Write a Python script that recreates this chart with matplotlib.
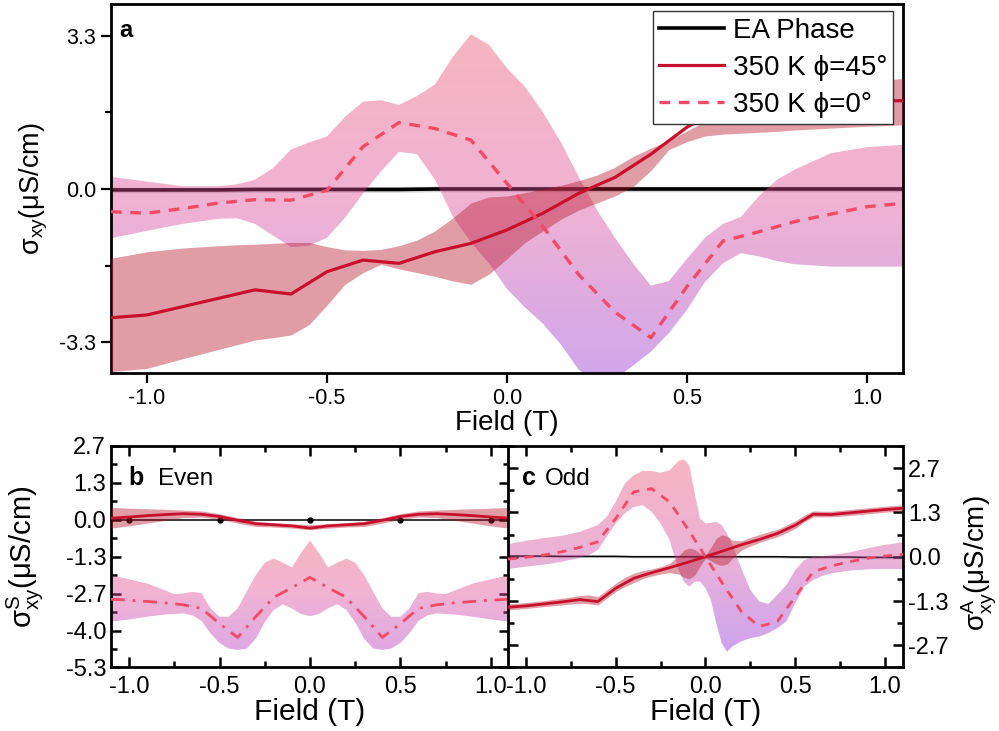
import numpy as np
import matplotlib
matplotlib.use('Agg')
import matplotlib.pyplot as plt
from matplotlib.colors import LinearSegmentedColormap
from matplotlib.ticker import FixedLocator, FormatStrFormatter, MultipleLocator

plt.rcParams['font.family'] = ['Liberation Sans', 'DejaVu Sans']
plt.rcParams['mathtext.fontset'] = 'custom'
plt.rcParams['mathtext.rm'] = 'Liberation Sans'
plt.rcParams['mathtext.it'] = 'Liberation Sans'
plt.rcParams['mathtext.default'] = 'regular'
plt.rcParams['axes.unicode_minus'] = False

# ---- panel a : full Hall conductivity ----
field = [-1.1, -1.0, -0.9, -0.8, -0.7, -0.6, -0.5, -0.4, -0.3, -0.2, -0.1, 0.0,
         0.1, 0.2, 0.3, 0.4, 0.5, 0.6, 0.7, 0.8, 0.9, 1.0, 1.1]
ea_a = [-0.02, -0.02, -0.02, -0.02, -0.01, -0.01, -0.01, -0.01, -0.01, 0.0, 0.0, 0.0,
        0.0, 0.0, 0.0, 0.0, 0.0, 0.0, 0.0, 0.0, 0.0, 0.0, 0.0]
phi45_a = [-2.77, -2.71, -2.53, -2.35, -2.17, -2.26, -1.78, -1.53, -1.60, -1.35, -1.17, -0.88,
           -0.52, -0.09, 0.25, 0.75, 1.33, 1.75, 1.82, 1.85, 1.87, 1.89, 1.90]
phi0_a = [-0.49, -0.52, -0.42, -0.30, -0.23, -0.24, -0.03, 0.91, 1.43, 1.30, 1.05, 0.12,
          -0.81, -1.85, -2.65, -3.20, -2.10, -1.12, -0.92, -0.70, -0.54, -0.38, -0.31]

band_x_a = [-1.1, -1.0, -0.9, -0.8, -0.75, -0.7, -0.65, -0.6, -0.55, -0.5, -0.45, -0.4, -0.35,
            -0.3, -0.25, -0.2, -0.15, -0.1, -0.05, 0.0, 0.05, 0.1, 0.15, 0.2, 0.25, 0.3,
            0.35, 0.4, 0.45, 0.5, 0.55, 0.6, 0.65, 0.7, 0.75, 0.8, 0.9, 1.0, 1.1]
phi45_hi_a = [-1.49, -1.35, -1.27, -1.22, -1.20, -1.19, -1.17, -1.15, -1.15, -1.24, -1.31, -1.32, -1.30,
              -1.22, -1.10, -0.90, -0.62, -0.30, -0.17, -0.15, -0.08, 0.0, 0.08, 0.18, 0.30, 0.47,
              0.70, 0.88, 1.05, 1.25, 1.45, 1.62, 1.75, 1.85, 1.95, 2.05, 2.20, 2.30, 2.38]
phi45_lo_a = [-3.93, -3.86, -3.65, -3.45, -3.35, -3.25, -3.20, -3.14, -2.92, -2.50, -2.05, -1.80, -1.62,
              -1.72, -1.80, -1.88, -1.98, -2.05, -1.83, -1.50, -1.15, -0.90, -0.65, -0.45, -0.30, -0.15,
              0.05, 0.40, 0.85, 1.02, 1.14, 1.18, 1.20, 1.22, 1.24, 1.27, 1.31, 1.35, 1.38]
phi0_hi_a = [0.26, 0.16, 0.06, 0.06, 0.10, 0.20, 0.45, 0.85, 1.00, 1.13, 1.55, 1.88, 1.91,
             1.81, 2.00, 2.25, 2.85, 3.33, 3.10, 2.60, 2.20, 1.65, 1.00, 0.25, -0.45, -1.05,
             -1.60, -2.08, -1.98, -1.50, -1.05, -0.75, -0.60, -0.15, 0.20, 0.42, 0.77, 0.90, 0.95]
phi0_lo_a = [-1.06, -0.90, -0.75, -0.64, -0.63, -0.75, -1.00, -1.25, -1.22, -1.05, -0.62, -0.10, 0.38,
             0.80, 0.75, 0.20, -0.60, -1.15, -1.60, -2.15, -2.55, -2.90, -3.35, -3.90, -4.10, -4.10,
             -3.80, -3.50, -3.10, -2.60, -2.00, -1.60, -1.38, -1.45, -1.55, -1.62, -1.67, -1.67, -1.67]

# ---- panel b : even (symmetric) part ----
ea_b = [0.0] * len(field)
even45 = [0.06, 0.10, 0.15, 0.19, 0.22, 0.20, 0.12, -0.02, -0.14, -0.18, -0.22, -0.30,
          -0.22, -0.18, -0.14, -0.02, 0.12, 0.20, 0.22, 0.19, 0.15, 0.10, 0.06]
even45_hi = [0.45, 0.42, 0.40, 0.38, 0.35, 0.32, 0.22, 0.08, -0.05, -0.10, -0.14, -0.18,
             -0.14, -0.10, -0.05, 0.08, 0.22, 0.32, 0.35, 0.38, 0.40, 0.42, 0.45]
even45_lo = [-0.30, -0.22, -0.12, -0.02, 0.08, 0.10, 0.02, -0.12, -0.24, -0.26, -0.30, -0.36,
             -0.30, -0.26, -0.24, -0.12, 0.02, 0.10, 0.08, -0.02, -0.12, -0.22, -0.30]
even0 = [-2.87, -2.90, -2.95, -3.00, -3.07, -3.20, -3.75, -4.25, -3.50, -2.80, -2.45, -2.08,
         -2.45, -2.80, -3.50, -4.25, -3.75, -3.20, -3.07, -3.00, -2.95, -2.90, -2.87]

band_x_b = [-1.1, -1.0, -0.9, -0.8, -0.75, -0.7, -0.65, -0.6, -0.55, -0.5, -0.45, -0.4, -0.35,
            -0.3, -0.25, -0.2, -0.15, -0.1, -0.05, 0.0, 0.05, 0.1, 0.15, 0.2, 0.25, 0.3,
            0.35, 0.4, 0.45, 0.5, 0.55, 0.6, 0.65, 0.7, 0.75, 0.8, 0.9, 1.0, 1.1]
even0_hi = [-2.00, -2.15, -2.30, -2.55, -2.68, -2.66, -2.60, -2.65, -3.20, -3.50, -3.50, -3.20, -2.60,
            -2.00, -1.55, -1.40, -1.55, -1.72, -1.20, -0.75, -1.20, -1.72, -1.55, -1.40, -1.55, -2.00,
            -2.60, -3.20, -3.50, -3.50, -3.20, -2.65, -2.60, -2.66, -2.68, -2.55, -2.30, -2.15, -2.00]
even0_lo = [-3.68, -3.60, -3.50, -3.42, -3.40, -3.38, -3.45, -3.65, -4.10, -4.45, -4.65, -4.70, -4.65,
            -4.30, -3.70, -3.25, -3.05, -3.20, -3.40, -3.48, -3.40, -3.20, -3.05, -3.25, -3.70, -4.30,
            -4.65, -4.70, -4.65, -4.45, -4.10, -3.65, -3.45, -3.38, -3.40, -3.42, -3.50, -3.60, -3.68]

# ---- panel c : odd (antisymmetric) part ----
ea_c = [0.02, 0.02, 0.02, 0.01, 0.01, 0.01, 0.01, 0.0, 0.0, 0.0, 0.0, 0.0,
        0.0, 0.0, 0.0, 0.0, -0.01, -0.01, -0.01, -0.01, -0.02, -0.02, -0.02]
odd45 = [-1.52, -1.48, -1.42, -1.36, -1.29, -1.35, -0.95, -0.65, -0.48, -0.33, -0.17, 0.0,
         0.18, 0.36, 0.52, 0.70, 0.95, 1.28, 1.27, 1.32, 1.37, 1.42, 1.46]
odd0 = [-0.07, -0.02, 0.05, 0.15, 0.28, 0.45, 1.15, 1.95, 2.05, 1.65, 0.85, 0.0,
        -0.85, -1.65, -2.10, -1.95, -1.20, -0.45, -0.28, -0.15, -0.05, 0.02, 0.07]

band_x_c = [-1.1, -1.0, -0.9, -0.8, -0.7, -0.65, -0.6, -0.55, -0.5, -0.45, -0.4, -0.35, -0.3,
            -0.25, -0.2, -0.15, -0.12, -0.09, -0.06, -0.03, 0.0, 0.03, 0.06, 0.09, 0.12, 0.15,
            0.2, 0.25, 0.3, 0.35, 0.4, 0.45, 0.5, 0.55, 0.6, 0.65, 0.7, 0.8, 0.9, 1.0, 1.1]
odd0_hi = [0.38, 0.48, 0.56, 0.63, 0.75, 0.85, 0.95, 1.20, 1.65, 2.20, 2.45, 2.58, 2.58,
           2.53, 2.60, 2.88, 2.93, 2.75, 1.90, 1.15, 1.00, 1.02, 1.05, 0.95, 0.70, 0.35,
           -0.35, -1.00, -1.35, -1.42, -1.15, -0.85, -0.40, -0.10, 0.0, 0.02, 0.05, 0.13, 0.25, 0.36, 0.43]
odd0_lo = [-0.37, -0.30, -0.24, -0.15, -0.03, 0.05, 0.20, 0.60, 1.00, 1.30, 1.50, 1.55, 1.35,
           1.00, 0.50, -0.40, -0.75, -0.90, -0.75, -0.75, -0.95, -1.30, -2.00, -2.60, -2.86, -2.70,
           -2.55, -2.45, -2.40, -2.30, -2.15, -1.95, -1.40, -0.90, -0.70, -0.58, -0.50, -0.42, -0.38, -0.37, -0.37]
odd45_hi = [-1.42, -1.38, -1.32, -1.25, -1.17, -1.15, -1.20, -1.00, -0.80, -0.62, -0.50, -0.42, -0.37,
            -0.30, -0.20, 0.02, 0.20, 0.26, 0.22, 0.10, 0.05, 0.28, 0.55, 0.66, 0.62, 0.50,
            0.48, 0.58, 0.67, 0.75, 0.82, 0.95, 1.08, 1.25, 1.38, 1.37, 1.37, 1.42, 1.47, 1.52, 1.56]
odd45_lo = [-1.60, -1.56, -1.50, -1.45, -1.40, -1.42, -1.45, -1.25, -1.05, -0.90, -0.78, -0.66, -0.58,
            -0.52, -0.48, -0.52, -0.62, -0.66, -0.56, -0.28, -0.05, -0.12, -0.22, -0.26, -0.22, -0.05,
            0.20, 0.32, 0.43, 0.52, 0.60, 0.72, 0.85, 1.05, 1.20, 1.20, 1.20, 1.24, 1.29, 1.34, 1.38]

RED = '#C8102E'
RED_BAND = '#B8172B'
DASH = '#F24A66'
BAND_ALPHA = 0.42
# band colours are semi transparent, so the black EA line shows through them
cmap_a = LinearSegmentedColormap.from_list('band_a', ['#EB4D6A', '#DA4896', '#8E2BD2'])
cmap_b = LinearSegmentedColormap.from_list('band_b', ['#EB4F6C', '#DC4A98', '#B230BD'])
cmap_c = LinearSegmentedColormap.from_list('band_c', ['#EB4D6A', '#D048A0', '#8A26DA'])


def gradient_band(ax, x, lo, hi, cmap, zorder=2):
    # fill_between gives the outline, the gradient image is clipped to it
    poly = ax.fill_between(x, lo, hi, facecolor='none', edgecolor='none')
    grad = np.linspace(0, 1, 256).reshape(-1, 1)
    im = ax.imshow(grad, cmap=cmap, aspect='auto', origin='upper', alpha=BAND_ALPHA,
                   extent=[min(x), max(x), min(lo), max(hi)], zorder=zorder,
                   interpolation='bilinear')
    im.set_clip_path(poly.get_paths()[0], ax.transData)


fig = plt.figure(figsize=(9.99, 7.31), dpi=100)
ax_a = fig.add_axes([0.1111, 0.4897, 0.7928, 0.5048])
ax_b = fig.add_axes([0.1111, 0.0869, 0.3984, 0.3030])
ax_c = fig.add_axes([0.5085, 0.0869, 0.3954, 0.3030])

# panel a
ax_a.fill_between(field, np.array(ea_a) - 0.06, np.array(ea_a) + 0.06, color='gray',
                  alpha=0.35, lw=0, zorder=1)
l_ea, = ax_a.plot(field, ea_a, color='black', lw=2.6, zorder=1.5, label='EA Phase')
gradient_band(ax_a, band_x_a, phi0_lo_a, phi0_hi_a, cmap_a, zorder=2)
ax_a.fill_between(band_x_a, phi45_lo_a, phi45_hi_a, color=RED_BAND, alpha=BAND_ALPHA, lw=0, zorder=3)
l45, = ax_a.plot(field, phi45_a, color=RED, lw=2.3, zorder=4, label='350 K ϕ=45°')
l0, = ax_a.plot(field, phi0_a, color=DASH, lw=2.4, dashes=(3.2, 2.6), zorder=4,
                label='350 K ϕ=0°')
ax_a.set_xlim(-1.1, 1.1)
ax_a.set_ylim(-3.96, 3.98)
ax_a.yaxis.set_major_locator(FixedLocator([-3.3, 0.0, 3.3]))
ax_a.yaxis.set_minor_locator(FixedLocator([-1.65, 1.65]))
ax_a.xaxis.set_major_locator(MultipleLocator(0.5))
ax_a.xaxis.set_major_formatter(FormatStrFormatter('%.1f'))
ax_a.yaxis.set_major_formatter(FormatStrFormatter('%.1f'))
ax_a.tick_params(which='both', direction='out', width=1.6, labelsize=15.5, top=False, right=False)
ax_a.tick_params(which='major', length=7)
ax_a.tick_params(which='minor', length=4)
ax_a.set_xlabel('Field (T)', fontsize=20, labelpad=1)
ax_a.set_ylabel('σ$_{xy}$(μS/cm)', fontsize=19.5)
ax_a.yaxis.set_label_coords(-0.077, 0.5)
ax_a.text(0.011, 0.91, 'a', transform=ax_a.transAxes, fontsize=17, fontweight='bold')
leg = ax_a.legend(handles=[l_ea, l45, l0], loc='upper right', bbox_to_anchor=(0.9874, 0.98),
                  borderaxespad=0, fontsize=20, frameon=True, fancybox=False, framealpha=1,
                  edgecolor='#333333', handlelength=2.35, handletextpad=0.3, labelspacing=0.4,
                  borderpad=0.22)
leg.get_frame().set_linewidth(1.0)
leg.set_zorder(10)

# panel b
ax_b.plot(field, ea_b, color='black', lw=1.1, zorder=1.5, marker='o', markersize=3.5,
          markevery=[1, 6, 11, 16, 21])
ax_b.fill_between(field, even45_lo, even45_hi, color=RED_BAND, alpha=BAND_ALPHA, lw=0, zorder=3)
ax_b.plot(field, even45, color=RED, lw=2.0, zorder=4)
gradient_band(ax_b, band_x_b, even0_lo, even0_hi, cmap_b, zorder=2)
ax_b.plot(field, even0, color=DASH, lw=2.0, dashes=(5, 2.8, 1, 2.8), zorder=4)
ax_b.set_xlim(-1.1, 1.1)
ax_b.set_ylim(-16 / 3, 8 / 3)
ax_b.text(0.043, 0.824, 'b', transform=ax_b.transAxes, fontsize=18, fontweight='bold')
ax_b.text(0.118, 0.824, 'Even', transform=ax_b.transAxes, fontsize=17.5)
ax_b.set_ylabel('σ$^{S}_{xy}$(μS/cm)', fontsize=21)
ax_b.yaxis.set_label_coords(-0.165, 0.5)

# panel c
ax_c.fill_between(field, np.array(ea_c) - 0.04, np.array(ea_c) + 0.04, color='gray',
                  alpha=0.35, lw=0, zorder=1)
ax_c.plot(field, ea_c, color='black', lw=1.1, zorder=1.5)
gradient_band(ax_c, band_x_c, odd0_lo, odd0_hi, cmap_c, zorder=2)
ax_c.fill_between(band_x_c, odd45_lo, odd45_hi, color=RED_BAND, alpha=BAND_ALPHA, lw=0, zorder=3)
ax_c.plot(field, odd45, color=RED, lw=2.0, zorder=4)
ax_c.plot(field, odd0, color=DASH, lw=2.0, dashes=(3.2, 2.8), zorder=4)
ax_c.set_xlim(-1.1, 1.1)
ax_c.set_ylim(-10 / 3, 10 / 3)
ax_c.text(0.035, 0.824, 'c', transform=ax_c.transAxes, fontsize=18, fontweight='bold')
ax_c.text(0.094, 0.824, 'Odd', transform=ax_c.transAxes, fontsize=17.5)
ax_c.yaxis.set_label_position('right')
ax_c.set_ylabel('σ$^{A}_{xy}$(μS/cm)', fontsize=20)
ax_c.yaxis.set_label_coords(1.143, 0.47)

for ax in (ax_b, ax_c):
    ax.xaxis.set_major_locator(MultipleLocator(0.5))
    ax.xaxis.set_minor_locator(MultipleLocator(0.25))
    ax.yaxis.set_major_locator(MultipleLocator(4 / 3))
    ax.yaxis.set_minor_locator(MultipleLocator(2 / 3))
    ax.xaxis.set_major_formatter(FormatStrFormatter('%.1f'))
    ax.yaxis.set_major_formatter(FormatStrFormatter('%.1f'))
    ax.tick_params(which='both', direction='in', width=1.8, labelsize=17,
                   top=True, right=True, bottom=True, left=True)
    ax.tick_params(which='major', length=7)
    ax.tick_params(which='minor', length=4.5)
    ax.tick_params(axis='x', pad=6)
    ax.set_xlabel('Field (T)', fontsize=21.5, labelpad=0)

ax_c.tick_params(axis='y', labelleft=False, labelright=True)

for ax in (ax_a, ax_b, ax_c):
    for sp in ax.spines.values():
        sp.set_linewidth(2.0)

fig.savefig('out.png', dpi=100)
